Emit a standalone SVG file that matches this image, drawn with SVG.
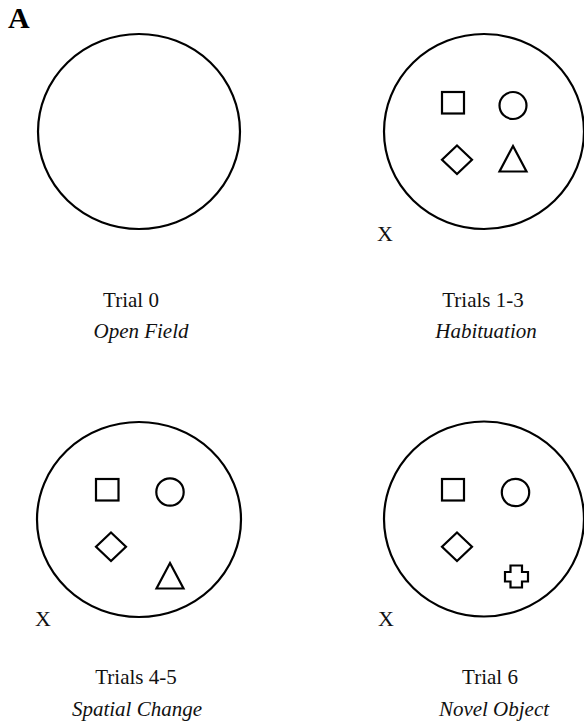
<svg xmlns="http://www.w3.org/2000/svg" width="584" height="727" viewBox="0 0 584 727">
<style>
.arena{fill:none;stroke:#000;stroke-width:2.2}
.obj{fill:none;stroke:#000;stroke-width:2.2;stroke-linejoin:miter}
.t{font-family:"Liberation Serif","Times New Roman",serif;font-size:21px;fill:#111;text-anchor:middle}
.i{font-style:italic}
.x{font-family:"Liberation Serif","Times New Roman",serif;font-size:22px;fill:#111}
.lbl{font-family:"Liberation Serif","Times New Roman",serif;font-size:30px;font-weight:bold;fill:#000}
</style>
<rect width="584" height="727" fill="#fff"/>
<text class="lbl" x="8" y="28">A</text>

<g id="trial0">
<ellipse class="arena" cx="139" cy="131.5" rx="101" ry="97.5"/>
<text class="t" x="131" y="306.5">Trial 0</text>
<text class="t i" x="141" y="338">Open Field</text>
</g>

<g id="trials1-3">
<ellipse class="arena" cx="484" cy="131.5" rx="100" ry="97.5"/>
<rect class="obj" x="442" y="92" width="22" height="21.5"/>
<circle class="obj" cx="513" cy="105.5" r="13.5"/>
<polygon class="obj" points="457,145.5 472,159.7 457,174 442,159.7"/>
<polygon class="obj" points="513,146 526.5,171.5 499.5,171.5"/>
<text class="x" x="377" y="241">X</text>
<text class="t" x="483" y="306.5">Trials 1-3</text>
<text class="t i" x="486" y="338">Habituation</text>
</g>

<g id="trials4-5">
<ellipse class="arena" cx="139" cy="519.5" rx="102" ry="97.5"/>
<rect class="obj" x="96" y="479" width="22.5" height="21.5"/>
<circle class="obj" cx="170" cy="492" r="13.7"/>
<polygon class="obj" points="111,532.5 126,546.7 111,561 96,546.7"/>
<polygon class="obj" points="170,563 183.5,588.5 156.5,588.5"/>
<text class="x" x="35" y="626">X</text>
<text class="t" x="136" y="684">Trials 4-5</text>
<text class="t i" x="137" y="715.5">Spatial Change</text>
</g>

<g id="trial6">
<ellipse class="arena" cx="484" cy="519" rx="100" ry="97.5"/>
<rect class="obj" x="442" y="479" width="22" height="21.5"/>
<circle class="obj" cx="515.5" cy="492.5" r="13.7"/>
<polygon class="obj" points="457,532.5 472,546.7 457,561 442,546.7"/>
<path class="obj" d="M510.5,565.5 H522 V572 H528 V581.5 H522 V587.5 H510.5 V581.5 H505 V572 H510.5 Z" stroke-linejoin="round"/>
<text class="x" x="378" y="626">X</text>
<text class="t" x="490" y="684">Trial 6</text>
<text class="t i" x="494" y="715.5">Novel Object</text>
</g>

<g id="connectors"></g>
</svg>
